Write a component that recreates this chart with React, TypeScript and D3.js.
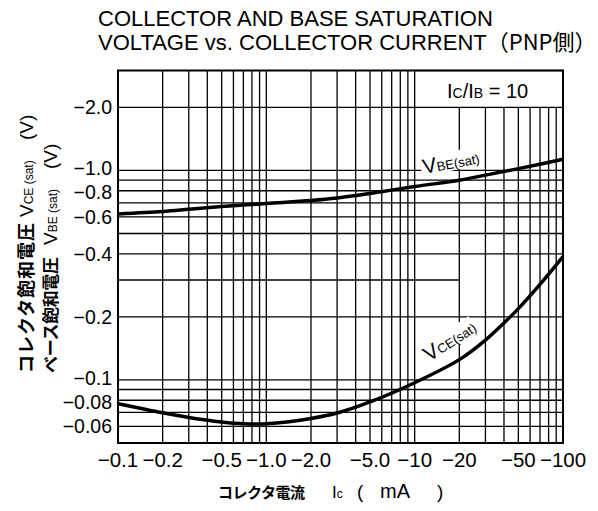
import React from "react";
import * as d3 from "d3";

const W = 598;
const H = 511;

// Axis ticks and labels (values are magnitudes; chart shows negative PNP values)
const xTicks = [0.1, 0.2, 0.5, 1, 2, 5, 10, 20, 50, 100];
const xTickLabels = ["−0.1", "−0.2", "−0.5", "−1.0", "−2.0", "−5.0", "−10", "−20", "−50", "−100"];
const yTicks = [2, 1, 0.8, 0.6, 0.4, 0.2, 0.1, 0.08, 0.06];
const yTickLabels = ["−2.0", "−1.0", "−0.8", "−0.6", "−0.4", "−0.2", "−0.1", "−0.08", "−0.06"];

// Grid lines
const xGrid = [
  0.2, 0.3, 0.4, 0.5, 0.6, 0.7, 0.8, 0.9,
  1, 2, 3, 4, 5, 6, 7, 8, 9,
  10, 20, 30, 40, 50, 60, 70, 80, 90,
];
const yGrid = [2, 1, 0.9, 0.8, 0.7, 0.6, 0.5, 0.4, 0.3, 0.2, 0.1, 0.09, 0.08, 0.07, 0.06];

// Series: VBE(sat)
const vbeIc = [0.1, 0.2, 0.3, 0.5, 1, 2, 3, 5, 10, 20, 30, 50, 100];
const vbeV = [0.62, 0.637, 0.652, 0.672, 0.695, 0.718, 0.738, 0.776, 0.838, 0.898, 0.95, 1.02, 1.13];

// Series: VCE(sat)
const vceIc = [0.1, 0.2, 0.3, 0.5, 0.7, 1, 2, 3, 5, 10, 20, 30, 40, 50, 70, 100];
const vceV = [0.077, 0.0697, 0.0662, 0.063, 0.0618, 0.0618, 0.0655, 0.0695, 0.0785, 0.097, 0.125, 0.155, 0.187, 0.219, 0.286, 0.388];

const L = 118, R = 563, T = 70.5, B = 443;

const SANS = "'Liberation Sans', Arial, Helvetica, sans-serif";
const JP = "'Noto Sans CJK JP', 'Noto Sans', sans-serif";
const MIX = "'Liberation Sans', 'Noto Sans CJK JP', sans-serif";

export default function App() {
  const x = d3.scaleLog().domain([0.1, 100]).range([L, R]);
  const y = d3.scaleLog().domain([0.05, 3]).range([B, T]);

  const line = d3
    .line<[number, number]>()
    .x((d) => x(d[0]))
    .y((d) => y(d[1]))
    .curve(d3.curveCatmullRom.alpha(0.5));

  const vbePath = line(vbeIc.map((c, i) => [c, vbeV[i]] as [number, number])) || "";
  const vcePath = line(vceIc.map((c, i) => [c, vceV[i]] as [number, number])) || "";

  const boxBottom = y(2);
  const boxLeft = x(10);

  // small nudges for crowded tick labels
  const yNudge = (v: number) => (v === 1 || v === 0.1 ? -2 : v === 0.8 || v === 0.08 ? 1.5 : 0);

  return (
    <svg width={W} height={H} viewBox={`0 0 ${W} ${H}`} style={{ display: "block", position: "absolute", left: 0, top: 0, background: "#fff" }}>
      <rect x={0} y={0} width={W} height={H} fill="#fff" />
      {/* Title */}
      <text x={98} y={26} fontFamily={SANS} fontSize={22} fill="#000">COLLECTOR AND BASE SATURATION</text>
      <text x={98} y={50} fontFamily={MIX} fontSize={22} fill="#000">
        VOLTAGE vs. COLLECTOR CURRENT<tspan fontFamily={JP}>（PNP側）</tspan>
      </text>

      {/* Vertical grid */}
      {xGrid.map((v) => (
        <line key={"xg" + v} x1={x(v)} x2={x(v)} y1={v > 10 ? boxBottom : T} y2={B} stroke="#000" strokeWidth={1.3} />
      ))}
      {/* Horizontal grid */}
      {yGrid.map((v) => (
        <line key={"yg" + v} x1={L} x2={v === 0.3 ? x(20) : R} y1={y(v)} y2={y(v)} stroke="#000" strokeWidth={1.3} />
      ))}
      {/* Box for IC/IB */}
      <rect x={boxLeft} y={T} width={R - boxLeft} height={boxBottom - T} fill="#fff" stroke="#000" strokeWidth={1.3} />
      <text x={447} y={98} fontFamily={SANS} fontSize={20} fill="#000">
        I<tspan fontSize={14}>C</tspan>/I<tspan fontSize={14}>B</tspan> = 10
      </text>

      {/* Curves */}
      <path d={vbePath} fill="none" stroke="#000" strokeWidth={3.5} strokeLinejoin="round" />
      <path d={vcePath} fill="none" stroke="#000" strokeWidth={3.5} strokeLinejoin="round" />

      {/* Curve labels */}
      <g transform="translate(424,174) rotate(-11)">
        <rect x={-2} y={-17} width={60} height={19} fill="#fff" />
        <text x={0} y={0} fontFamily={SANS} fontSize={21} fill="#000">
          V<tspan fontSize={13}>BE(sat)</tspan>
        </text>
      </g>
      <g transform="translate(429,362) rotate(-33)">
        <rect x={-2} y={-17} width={60} height={19} fill="#fff" />
        <text x={0} y={0} fontFamily={SANS} fontSize={21} fill="#000">
          V<tspan fontSize={13}>CE(sat)</tspan>
        </text>
      </g>

      {/* Frame */}
      <rect x={L} y={T} width={R - L} height={B - T} fill="none" stroke="#000" strokeWidth={2} />

      {/* Y tick labels */}
      {yTicks.map((v, i) => (
        <text key={"yt" + v} x={112} y={y(v) + yNudge(v)} dy="0.36em" textAnchor="end" fontFamily={SANS} fontSize={19.5} fill="#000">
          {yTickLabels[i]}
        </text>
      ))}
      {/* X tick labels */}
      {xTicks.map((v, i) => (
        <text key={"xt" + v} x={x(v)} y={467} textAnchor="middle" fontFamily={SANS} fontSize={20.5} fill="#000">
          {xTickLabels[i]}
        </text>
      ))}

      {/* Y axis titles */}
      <g transform="translate(33,373) rotate(-90)">
        <text x={0} y={0} fontFamily={JP} fontSize={18} fontWeight={700} fill="#000" textLength={150} lengthAdjust="spacing">コレクタ飽和電圧</text>
        <text x={156} y={0} fontFamily={SANS} fontSize={19} fill="#000">
          V<tspan fontSize={12}>CE (sat)</tspan>
        </text>
        <text x={233} y={0} fontFamily={SANS} fontSize={19} fill="#000">(V)</text>
      </g>
      <g transform="translate(57,373) rotate(-90)">
        <text x={0} y={0} fontFamily={JP} fontSize={17} fontWeight={700} fill="#000" textLength={116} lengthAdjust="spacing">ベース飽和電圧</text>
        <text x={128} y={0} fontFamily={SANS} fontSize={19} fill="#000">
          V<tspan fontSize={12}>BE (sat)</tspan>
        </text>
        <text x={204} y={0} fontFamily={SANS} fontSize={19} fill="#000">(V)</text>
      </g>

      {/* X axis title */}
      <text x={218} y={498} fontFamily={JP} fontSize={15} fontWeight={700} fill="#000" textLength={87} lengthAdjust="spacing">コレクタ電流</text>
      <text x={332} y={498} fontFamily={SANS} fontSize={17} fill="#000">
        I<tspan fontSize={12}>c</tspan>
      </text>
      <text x={357} y={498} fontFamily={SANS} fontSize={19} fill="#000">(</text>
      <text x={380} y={498} fontFamily={SANS} fontSize={20} fill="#000">mA</text>
      <text x={437} y={498} fontFamily={SANS} fontSize={19} fill="#000">)</text>
    </svg>
  );
}
